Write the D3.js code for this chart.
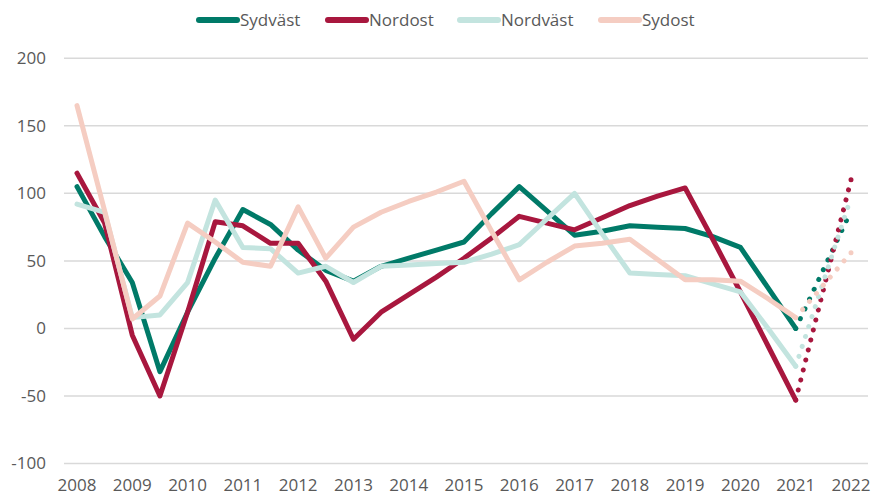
<!DOCTYPE html>
<html>
<head>
<meta charset="utf-8">
<script src="https://cdn.jsdelivr.net/npm/d3@7"></script>
<style>
  body { margin: 0; background: #fff; }
  text { font-family: "Open Sans", sans-serif; fill: #595959; }
</style>
</head>
<body>
<div id="chart"></div>
<script>
// half-year points 2008 .. 2021
const years = d3.range(2008, 2021.01, 0.5);
const tickYears = d3.range(2008, 2023);
const yTicks = [-100, -50, 0, 50, 100, 150, 200];

const seriesNames = ["Sydväst", "Nordost", "Nordväst", "Sydost"];
const sydvast = [105, 68, 34, -32, 12, 52, 88, 77, 58, 43, 35, 46, 52, 58, 64, 85, 105, 87, 69, 72, 76, 75, 74, 68, 60, 30, 0];
const nordost = [115, 78, -5, -50, 12, 79, 76, 63, 63, 35, -8, 12, 25, 38, 52, 67, 83, 78, 73, 82, 91, 98, 104, 66, 27, -13, -53];
const nordvast = [92, 86, 8, 10, 34, 95, 60, 59, 41, 46, 34, 46, 47, 48, 49, 55, 62, 81, 100, 70, 41, 40, 39, 33, 27, 0, -28];
const sydost = [165, 87, 7, 24, 78, 64, 49, 46, 90, 52, 75, 86, 94, 101, 109, 72, 36, 49, 61, 63, 66, 51, 36, 36, 35, 22, 8];
// forecast for 2022 (dotted)
const forecast2022 = [87, 110, 97, 56];

const colors = ["#007a68", "#a8173e", "#c3e4df", "#f5cdc2"];
const allValues = [sydvast, nordost, nordvast, sydost];

const width = 872, height = 495;

const svg = d3.select("#chart")
    .append("svg")
    .attr("width", width)
    .attr("height", height);

let x = d3.scaleLinear()
    .domain([2008, 2022])
    .range([77, 851]);

let y = d3.scaleLinear()
    .domain([-100, 200])
    .range([463.5, 58.3]);

// gridlines
svg.append("g")
    .selectAll("line")
    .data(yTicks)
    .join("line")
    .attr("x1", 64)
    .attr("x2", 868)
    .attr("y1", d => y(d))
    .attr("y2", d => y(d))
    .attr("stroke", "#d9d9d9")
    .attr("stroke-width", 1.5);

// y labels
svg.append("g")
    .selectAll("text")
    .data(yTicks)
    .join("text")
    .attr("x", 46)
    .attr("y", d => y(d))
    .attr("dy", "0.35em")
    .attr("text-anchor", "end")
    .style("font-size", "17px")
    .text(d => d);

// x labels
svg.append("g")
    .selectAll("text")
    .data(tickYears)
    .join("text")
    .attr("x", d => x(d))
    .attr("y", 485.5)
    .attr("dy", "0.35em")
    .attr("text-anchor", "middle")
    .style("font-size", "17px")
    .text(d => d);

let line = d3.line()
    .x(d => x(d[0]))
    .y(d => y(d[1]));

// solid series
allValues.forEach((vals, i) => {
    svg.append("path")
        .datum(years.map((yr, j) => [yr, vals[j]]))
        .attr("fill", "none")
        .attr("stroke", colors[i])
        .attr("stroke-width", 5)
        .attr("stroke-linejoin", "round")
        .attr("stroke-linecap", "round")
        .attr("d", line);
});

// dotted forecast 2021 -> 2022
allValues.forEach((vals, i) => {
    let p = svg.append("path")
        .datum([[2021, vals[vals.length - 1]], [2022, forecast2022[i]]])
        .attr("fill", "none")
        .attr("stroke", colors[i])
        .attr("stroke-width", 5)
        .attr("stroke-linecap", "round")
        .attr("d", line);
    // spread dots so one lands on each end
    let len = p.node().getTotalLength();
    let n = Math.round(len / 10.5);
    p.attr("stroke-dasharray", `0.01,${len / n - 0.01}`);
});

// legend
const legendX = [196, 325, 457, 598];
let legend = svg.append("g")
    .selectAll("g")
    .data(seriesNames)
    .join("g")
    .attr("transform", (d, i) => `translate(${legendX[i]},20)`);

legend.append("line")
    .attr("x1", 3)
    .attr("x2", 41)
    .attr("stroke", (d, i) => colors[i])
    .attr("stroke-width", 6)
    .attr("stroke-linecap", "round");

legend.append("text")
    .attr("x", 44)
    .attr("dy", "0.35em")
    .style("font-size", "17px")
    .text(d => d);
</script>
</body>
</html>
